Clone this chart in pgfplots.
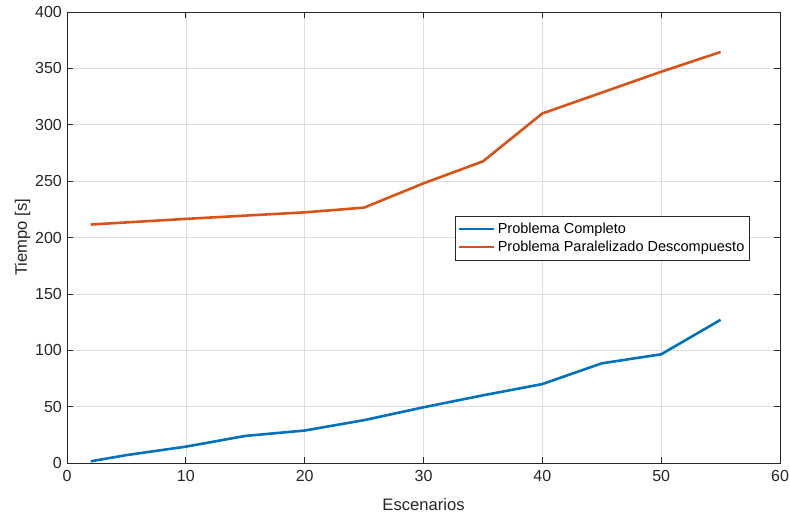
\documentclass[border=0pt]{standalone}
\usepackage{pgfplots}
\pgfplotsset{compat=1.18}
\usepackage{fontspec}
\setmainfont{Liberation Sans}
\definecolor{mblue}{rgb}{0,0.447,0.741}
\definecolor{morange}{rgb}{0.85,0.325,0.098}
\definecolor{axgray}{rgb}{0.15,0.15,0.15}
\definecolor{gridgray}{rgb}{0.87,0.87,0.87}
\begin{document}
\begin{tikzpicture}
\begin{axis}[
  name=ax,
  scale only axis,
  width=713bp, height=451bp,
  xmin=0, xmax=60, ymin=0, ymax=400,
  xtick={0,10,...,60},
  ytick={0,50,...,400},
  grid=major,
  major grid style={gridgray, line width=0.6pt},
  axis line style={axgray, line width=0.7pt},
  tick style={axgray, line width=0.7pt},
  tick align=inside,
  major tick length=6bp,
  xtick pos=both, ytick pos=both,
  ticklabel style={font=\fontsize{16bp}{18bp}\selectfont, text=axgray},
  xticklabel style={inner ysep=0bp, yshift=-7bp},
  yticklabel style={inner xsep=0bp, xshift=-5bp},
  /pgf/number format/assume math mode=true,
  label style={font=\fontsize{16.6bp}{19bp}\selectfont, text=axgray},
  xlabel={Escenarios},
  ylabel={Tiempo [s]},
  xlabel style={at={(axis description cs:0.5,-0.1064)}, anchor=base, inner sep=0bp},
  ylabel style={at={(axis description cs:-0.0561,0.5)}, anchor=base, inner sep=0bp},
  legend style={at={(0.544,0.548)}, anchor=north west, draw=axgray, line width=0.6pt,
    font=\fontsize{14.5bp}{17bp}\selectfont, text=black, inner xsep=3bp, inner ysep=5bp,
    row sep=2bp},
  legend cell align=left,
  legend image code/.code={\draw[#1, line width=2.6pt] (0bp,0bp) -- (35bp,0bp);},
]
\addplot[mblue, line width=2.6pt] coordinates {
 (2,1.5) (5,7) (10,14.5) (15,24) (20,28.8) (25,38) (30,49.4) (35,60) (40,70) (45,88.4) (50,96.4) (55,127)
};
\addlegendentry{Problema Completo}
\addplot[morange, line width=2.6pt] coordinates {
 (2,211.5) (10,216.5) (20,222.3) (25,226.5) (30,248) (35,267.5) (40,310) (45,328.5) (50,347) (55,364.5)
};
\addlegendentry{Problema Paralelizado Descompuesto}
\end{axis}
\pgfresetboundingbox
\path ([shift={(-67bp,-54bp)}]ax.south west) rectangle ([shift={(10bp,12bp)}]ax.north east);
\end{tikzpicture}
\end{document}
